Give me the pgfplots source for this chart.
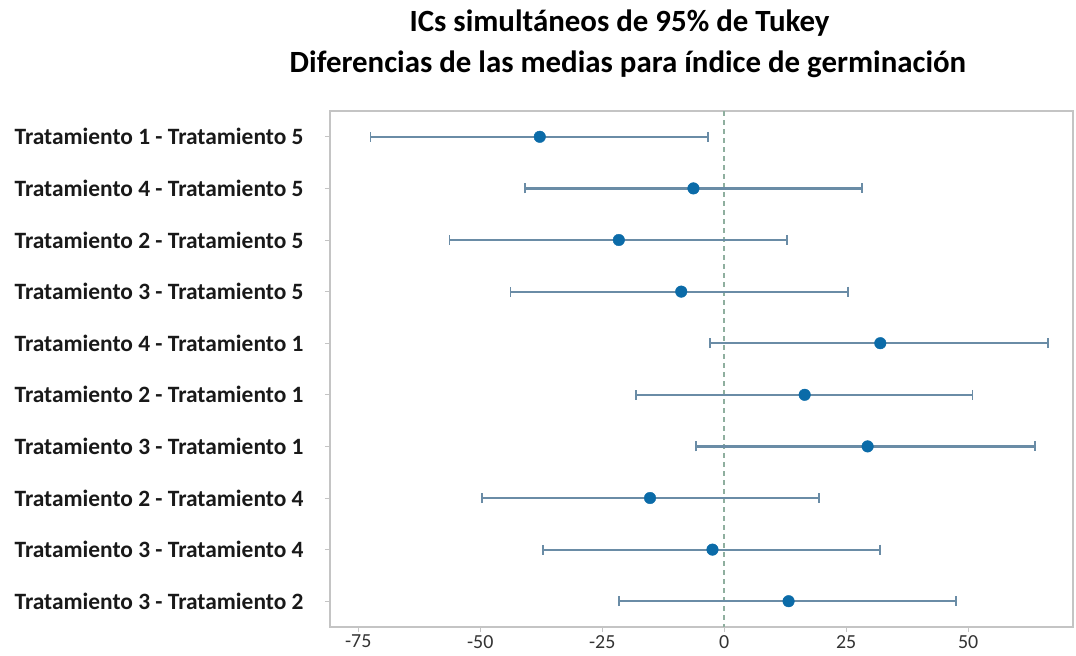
\documentclass[border=0pt]{standalone}
\usepackage{pgfplots}
\pgfplotsset{compat=1.18}
\usepackage{fontspec}
\setmainfont{Carlito}
\definecolor{ptblue}{HTML}{0B6BA8}
\definecolor{barc}{HTML}{6A8CA6}
\definecolor{zeroc}{HTML}{8FAF9F}
\definecolor{framec}{HTML}{C4C4C4}
\begin{document}
\begin{tikzpicture}
\useasboundingbox (-330bp,-29bp) rectangle (746bp,627bp);
\begin{axis}[
  at={(0,0)}, anchor=south west,
  scale only axis, width=743bp, height=516bp,
  xmin=-80.8, xmax=71.5, ymin=0.5, ymax=10.5, y dir=reverse,
  xtick={-75,-50,-25,0,25,50},
  xticklabels={-75,-50,-25,0,25,50},
  ytick={1,...,10},
  yticklabels={Tratamiento 1 - Tratamiento 5,Tratamiento 4 - Tratamiento 5,Tratamiento 2 - Tratamiento 5,Tratamiento 3 - Tratamiento 5,Tratamiento 4 - Tratamiento 1,Tratamiento 2 - Tratamiento 1,Tratamiento 3 - Tratamiento 1,Tratamiento 2 - Tratamiento 4,Tratamiento 3 - Tratamiento 4,Tratamiento 3 - Tratamiento 2},
  axis line style={framec, line width=1.5bp},
  tick style={framec, line width=1bp},
  major tick length=5bp,
  tick align=outside, xtick pos=bottom, ytick pos=left,
  yticklabel style={font=\bfseries\fontsize{23.5}{25}\selectfont, text=black!90, xshift=-18bp},
  xticklabel style={font=\fontsize{20}{22}\selectfont, text=black!80, yshift=-1bp, inner ysep=2bp},
  clip=false
]
\addplot[zeroc, line width=1.5bp, dash pattern=on 5bp off 4bp] coordinates {(0,0.5) (0,10.5)};
\addplot[only marks, mark=*, mark size=5.8bp, color=ptblue,
  error bars/.cd, x dir=both, x explicit, error mark=|,
  error bar style={draw=barc, line width=2.2bp},
  error mark options={draw=barc, mark size=5bp, line width=1.8bp}]
  coordinates {
  (-37.8,1) += (34.5,0) -= (34.7,0)
  (-6.3,2) += (34.5,0) -= (34.5,0)
  (-21.6,3) += (34.5,0) -= (34.7,0)
  (-8.8,4) += (34.2,0) -= (35.0,0)
  (32.0,5) += (34.3,0) -= (34.9,0)
  (16.5,6) += (34.4,0) -= (34.5,0)
  (29.4,7) += (34.3,0) -= (35.1,0)
  (-15.2,8) += (34.7,0) -= (34.5,0)
  (-2.4,9) += (34.4,0) -= (34.7,0)
  (13.2,10) += (34.3,0) -= (34.8,0)
  };
\end{axis}
\node[font=\bfseries\fontsize{31}{33}\selectfont, anchor=base] at (289.5bp,595bp) {ICs simultáneos de 95\% de Tukey};
\node[font=\bfseries\fontsize{31}{33}\selectfont, anchor=base] at (298bp,554bp) {Diferencias de las medias para índice de germinación};
\end{tikzpicture}
\end{document}
